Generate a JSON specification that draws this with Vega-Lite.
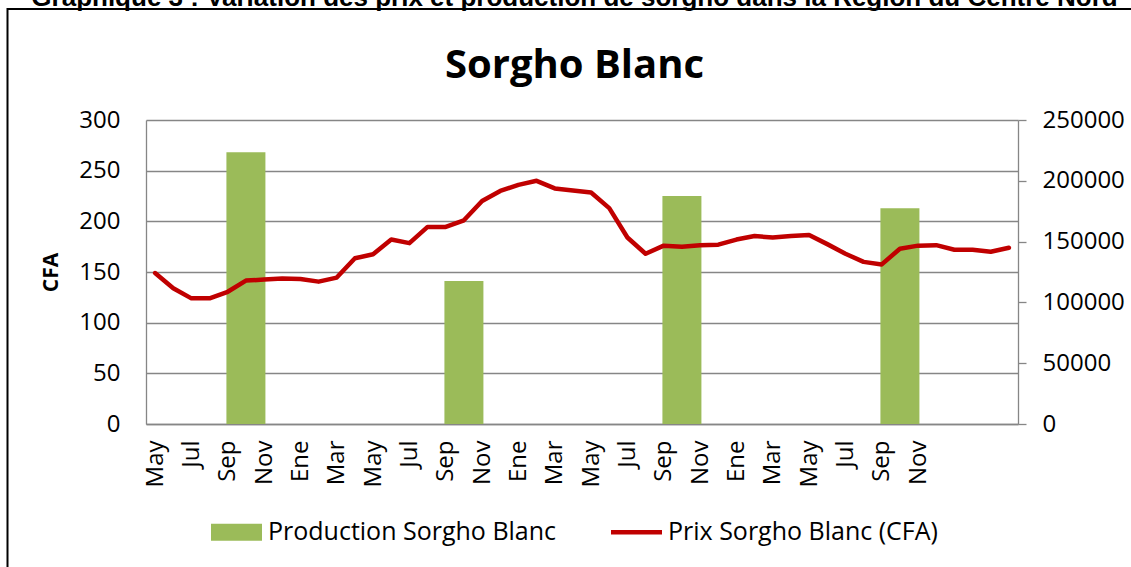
{
  "$schema": "https://vega.github.io/schema/vega-lite/v6.json",
  "width": 872,
  "height": 304,
  "autosize": {"type": "none"},
  "padding": {"left": 146, "top": 120, "right": 113, "bottom": 143},
  "background": "white",
  "title": {
    "text": "Graphique 3 : Variation des prix et production de sorgho dans la Région du Centre Nord",
    "subtitle": "Sorgho Blanc",
    "anchor": "middle",
    "dx": -7.5,
    "font": "Liberation Sans",
    "fontSize": 26,
    "fontWeight": "bold",
    "color": "black",
    "subtitleFont": "Open Sans",
    "subtitleFontSize": 40,
    "subtitleFontWeight": "bold",
    "subtitleColor": "black",
    "subtitlePadding": 35,
    "offset": -78
  },
  "config": {
    "view": {"stroke": null},
    "legend": {"strokeWidth": 2}
  },
  "data": {
    "values": [
      {"mois": "2010-05", "prix": 149},
      {"mois": "2010-06", "prix": 134},
      {"mois": "2010-07", "prix": 124},
      {"mois": "2010-08", "prix": 124},
      {"mois": "2010-09", "prix": 130.5},
      {"mois": "2010-10", "prix": 141.5, "production": 223500},
      {"mois": "2010-11", "prix": 142.5},
      {"mois": "2010-12", "prix": 143.5},
      {"mois": "2011-01", "prix": 143},
      {"mois": "2011-02", "prix": 140.5},
      {"mois": "2011-03", "prix": 144.5},
      {"mois": "2011-04", "prix": 163.5},
      {"mois": "2011-05", "prix": 167.5},
      {"mois": "2011-06", "prix": 182},
      {"mois": "2011-07", "prix": 178.5},
      {"mois": "2011-08", "prix": 194.5},
      {"mois": "2011-09", "prix": 194.5},
      {"mois": "2011-10", "prix": 201, "production": 117500},
      {"mois": "2011-11", "prix": 220},
      {"mois": "2011-12", "prix": 230},
      {"mois": "2012-01", "prix": 236},
      {"mois": "2012-02", "prix": 240},
      {"mois": "2012-03", "prix": 232.5},
      {"mois": "2012-04", "prix": 230.5},
      {"mois": "2012-05", "prix": 228.5},
      {"mois": "2012-06", "prix": 213},
      {"mois": "2012-07", "prix": 184},
      {"mois": "2012-08", "prix": 168},
      {"mois": "2012-09", "prix": 176},
      {"mois": "2012-10", "prix": 175, "production": 187500},
      {"mois": "2012-11", "prix": 176.5},
      {"mois": "2012-12", "prix": 177},
      {"mois": "2013-01", "prix": 182},
      {"mois": "2013-02", "prix": 185.5},
      {"mois": "2013-03", "prix": 184},
      {"mois": "2013-04", "prix": 185.5},
      {"mois": "2013-05", "prix": 186.5},
      {"mois": "2013-06", "prix": 177.5},
      {"mois": "2013-07", "prix": 168},
      {"mois": "2013-08", "prix": 160},
      {"mois": "2013-09", "prix": 157.5},
      {"mois": "2013-10", "prix": 173, "production": 177500},
      {"mois": "2013-11", "prix": 176},
      {"mois": "2013-12", "prix": 176.5},
      {"mois": "2014-01", "prix": 172},
      {"mois": "2014-02", "prix": 172},
      {"mois": "2014-03", "prix": 170},
      {"mois": "2014-04", "prix": 174}
    ]
  },
  "encoding": {
    "x": {
      "field": "mois",
      "type": "ordinal",
      "scale": {"type": "point", "padding": 0.5},
      "axis": {
        "title": null,
        "labelAngle": 270,
        "labelFont": "Open Sans",
        "labelFontSize": 24,
        "labelColor": "black",
        "labelPadding": 16,
        "labelOverlap": false,
        "ticks": false,
        "grid": false,
        "domainColor": "#868686",
        "domainWidth": 1.3,
        "labelExpr": "(toNumber(slice(datum.value, 5)) % 2 == 1 && datum.value <= '2013-11') ? ['Ene','Feb','Mar','Abr','May','Jun','Jul','Ago','Sep','Oct','Nov','Dic'][toNumber(slice(datum.value, 5)) - 1] : ''"
      }
    }
  },
  "layer": [
    {
      "transform": [{"filter": "isValid(datum.production)"}],
      "mark": {"type": "bar", "width": 39},
      "encoding": {
        "y": {
          "field": "production",
          "type": "quantitative",
          "scale": {"domain": [0, 250000], "nice": false},
          "axis": {
            "orient": "right",
            "title": null,
            "values": [0, 50000, 100000, 150000, 200000, 250000],
            "format": "d",
            "grid": false,
            "labelFont": "Open Sans",
            "labelFontSize": 24,
            "labelColor": "black",
            "labelPadding": 16,
            "tickSize": 8,
            "tickColor": "#868686",
            "tickWidth": 1.3,
            "domainColor": "#868686",
            "domainWidth": 1.3
          }
        },
        "color": {
          "datum": "Production Sorgho Blanc",
          "type": "nominal",
          "scale": {
            "domain": ["Production Sorgho Blanc", "Prix Sorgho Blanc (CFA)"],
            "range": ["#9BBB59", "#C00000"]
          },
          "legend": {
            "orient": "none",
            "legendX": -138.5,
            "legendY": -111,
            "direction": "horizontal",
            "title": " ",
            "titleFontSize": 2,
            "titlePadding": 292,
            "padding": 216.5,
            "strokeColor": "black",
            "labelFont": "Open Sans",
            "labelFontSize": 25,
            "labelColor": "black",
            "labelLimit": 0,
            "labelOffset": 19,
            "columnPadding": 54,
            "symbolSize": 289,
            "symbolType": "M-3,-1H3V1H-3Z",
            "symbolStrokeWidth": 0,
            "encode": {
              "symbols": {
                "update": {
                  "shape": {"signal": "datum.value === 'Production Sorgho Blanc' ? 'M-3,-1H3V1H-3Z' : 'M-3,-0.26H3V0.26H-3Z'"},
                  "fill": {"signal": "datum.value === 'Production Sorgho Blanc' ? '#9BBB59' : '#C00000'"},
                  "fillOpacity": {"value": 1},
                  "opacity": {"value": 1},
                  "strokeWidth": {"value": 0},
                  "size": {"value": 289}
                }
              }
            }
          }
        }
      }
    },
    {
      "mark": {"type": "line", "strokeWidth": 4.5, "strokeJoin": "round", "strokeCap": "round"},
      "encoding": {
        "y": {
          "field": "prix",
          "type": "quantitative",
          "scale": {"domain": [0, 300], "nice": false},
          "axis": {
            "orient": "left",
            "title": "CFA",
            "titleFont": "Open Sans",
            "titleFontSize": 21,
            "titleFontWeight": "bold",
            "titleColor": "black",
            "titlePadding": 17,
            "values": [0, 50, 100, 150, 200, 250, 300],
            "labelFont": "Open Sans",
            "labelFontSize": 24,
            "labelColor": "black",
            "labelPadding": 26,
            "ticks": false,
            "grid": true,
            "gridColor": "#868686",
            "gridWidth": 1.3,
            "domainColor": "#868686",
            "domainWidth": 1.3
          }
        },
        "color": {"datum": "Prix Sorgho Blanc (CFA)", "type": "nominal"}
      }
    }
  ],
  "resolve": {"scale": {"y": "independent"}}
}
